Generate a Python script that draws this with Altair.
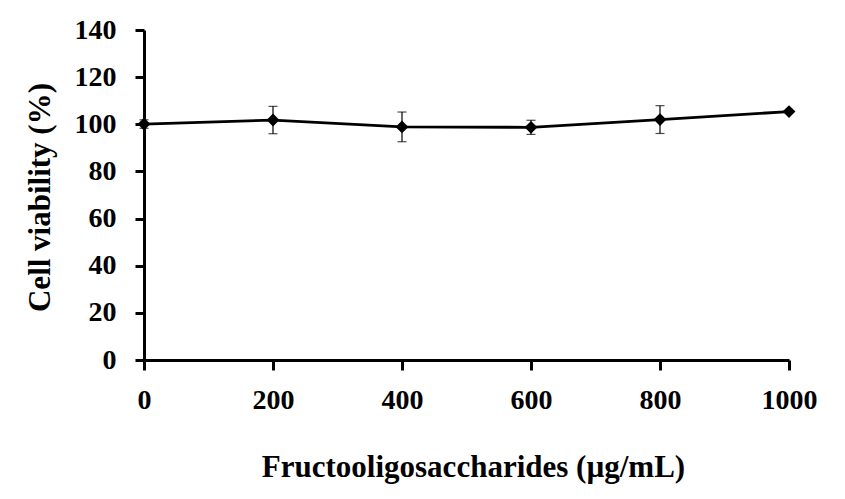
import altair as alt
import pandas as pd

conc = [0, 200, 400, 600, 800, 1000]
viability = [100.1, 101.8, 98.9, 98.7, 102.0, 105.4]
err = [1.8, 5.8, 6.3, 3.0, 5.9, 0.4]

df = pd.DataFrame({
    "conc": conc,
    "v": viability,
    "lo": [v - e for v, e in zip(viability, err)],
    "hi": [v + e for v, e in zip(viability, err)],
})

FONT = "Liberation Serif"

x = alt.X("conc:Q", scale=alt.Scale(domain=[0, 1000], nice=False),
          axis=alt.Axis(values=[0, 200, 400, 600, 800, 1000], format="d",
                        title="Fructooligosaccharides (µg/mL)",
                        titleX=329, titleY=116, titleBaseline="alphabetic",
                        titleAlign="center", tickSize=10, labelPadding=16))
y = alt.Y("v:Q", scale=alt.Scale(domain=[0, 140], nice=False),
          axis=alt.Axis(values=list(range(0, 141, 20)), format="d",
                        title="Cell viability (%)",
                        titleX=-95, titleY=167, titleBaseline="alphabetic",
                        titleAlign="center", titleAngle=270,
                        tickSize=9, labelPadding=19))

line = alt.Chart(df).mark_line(color="black", strokeWidth=2.8).encode(x=x, y=y)
pts = alt.Chart(df).mark_point(shape="diamond", filled=True, color="black",
                               size=165, opacity=1).encode(x=x, y=y)
rule = alt.Chart(df).mark_rule(color="black", strokeWidth=1.2).encode(
    x="conc:Q", y="lo:Q", y2="hi:Q")
cap_hi = alt.Chart(df).mark_tick(color="black", orient="horizontal", size=9,
                                 thickness=1.2).encode(x="conc:Q", y="hi:Q")
cap_lo = alt.Chart(df).mark_tick(color="black", orient="horizontal", size=9,
                                 thickness=1.2).encode(x="conc:Q", y="lo:Q")

chart = alt.layer(rule, cap_hi, cap_lo, line, pts).properties(
    width=645, height=330,
    background="white",
    autosize=alt.AutoSizeParams(type="none"),
    padding={"left": 136, "top": 22, "right": 40, "bottom": 135},
).configure_view(stroke=None).configure_axis(
    grid=False,
    domainColor="black", domainWidth=3,
    tickColor="black", tickWidth=3,
    labelFont=FONT, labelFontSize=28, labelFontWeight="bold", labelColor="black",
    titleFont=FONT, titleFontSize=31, titleFontWeight="bold", titleColor="black",
    labelFlush=False, labelOverlap=False,
)

chart.save("out.html", embed_options={"renderer": "svg", "actions": False})
